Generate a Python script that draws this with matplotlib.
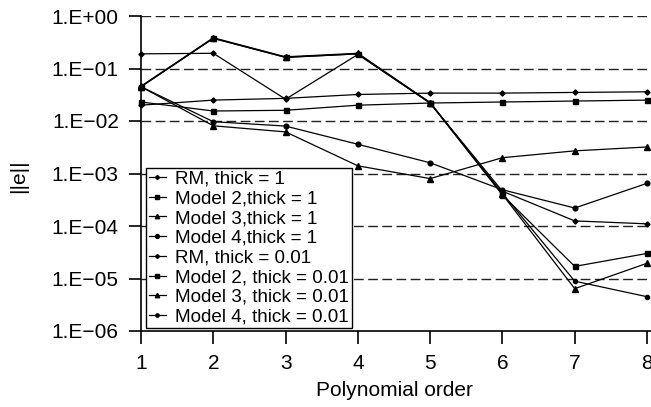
import matplotlib
matplotlib.use("Agg")
import matplotlib.pyplot as plt
from matplotlib.ticker import FixedLocator, FixedFormatter

plt.rcParams['font.family'] = ['Liberation Sans', 'DejaVu Sans']

orders = [1, 2, 3, 4, 5, 6, 7, 8]

# error norms, thickness = 1
rm_t1 = [0.020, 0.025, 0.027, 0.032, 0.034, 0.034, 0.035, 0.036]
m2_t1 = [0.023, 0.0155, 0.016, 0.020, 0.022, 0.023, 0.024, 0.025]
m3_t1 = [0.045, 0.0081, 0.0062, 0.0014, 0.00080, 0.0020, 0.0027, 0.0032]
m4_t1 = [0.045, 0.0097, 0.0080, 0.0036, 0.0016, 0.00049, 0.00022, 0.00065]

# error norms, thickness = 0.01
rm_t001 = [0.19, 0.195, 0.026, 0.185, 0.022, 0.00046, 0.000125, 0.00011]
m2_t001 = [0.045, 0.376, 0.163, 0.19, 0.022, 0.00039, 0.000017, 0.000030]
m3_t001 = [0.046, 0.385, 0.167, 0.195, 0.0225, 0.00040, 0.0000064, 0.0000195]
m4_t001 = [0.045, 0.376, 0.163, 0.19, 0.022, 0.00042, 0.0000089, 0.0000045]

labels = ["RM, thick = 1", "Model 2,thick = 1", "Model 3,thick = 1",
          "Model 4,thick = 1", "RM, thick = 0.01", "Model 2, thick = 0.01",
          "Model 3, thick = 0.01", "Model 4, thick = 0.01"]

ytick_vals = [1e0, 1e-1, 1e-2, 1e-3, 1e-4, 1e-5, 1e-6]
ytick_labels = ["1.E+00", "1.E\u221201", "1.E\u221202", "1.E\u221203",
                "1.E\u221204", "1.E\u221205", "1.E\u221206"]

fig = plt.figure(figsize=(6.51, 4.07), dpi=100)
ax = fig.add_axes([141/651, 1 - 331/407, (651 - 141)/651, (331 - 16)/407])

styles = [
    (rm_t1, 'D', 2.6), (m2_t1, 's', 3.6), (m3_t1, '^', 4.0), (m4_t1, 'o', 3.4),
    (rm_t001, 'D', 2.6), (m2_t001, 's', 3.6), (m3_t001, '^', 4.0), (m4_t001, 'o', 3.0),
]
for (vals, mk, ms), lab in zip(styles, labels):
    ax.plot(orders, vals, color='black', lw=0.9, marker=mk, markersize=ms,
            label=lab, clip_on=False, zorder=3)

ax.set_yscale('log')
ax.set_ylim(1e-6, 1e0)
ax.set_xlim(1, 8 + 4/72.3)

for v in ytick_vals[:-1]:
    ax.axhline(v, color='#222222', lw=1.0, dashes=(7, 3.2), zorder=1)

ax.yaxis.set_major_locator(FixedLocator(ytick_vals))
ax.yaxis.set_major_formatter(FixedFormatter(ytick_labels))
ax.yaxis.set_minor_locator(FixedLocator([]))
ax.set_xticks(orders)
ax.set_xticklabels([str(o) for o in orders])

for s in ['top', 'right']:
    ax.spines[s].set_visible(False)
for s in ['left', 'bottom']:
    ax.spines[s].set_linewidth(1.2)
    ax.spines[s].set_color('black')

ax.tick_params(axis='y', direction='out', length=9, width=1.2, pad=7, labelsize=15)
ax.tick_params(axis='x', direction='out', length=9.5, width=1.2, pad=7, labelsize=15)

leg = ax.legend(loc='lower left', bbox_to_anchor=(145.7/651, 1 - 328.3/407),
                bbox_transform=fig.transFigure, fontsize=13.6, frameon=True,
                fancybox=False, framealpha=1, edgecolor='black',
                labelspacing=0.13, handlelength=0.9, handletextpad=0.5,
                borderpad=0.15, borderaxespad=0, markerscale=0.8)
leg.get_frame().set_linewidth(1.0)
leg.set_zorder(5)

fig.text(19/651, 1 - 176/407, "||e||", rotation=90, ha='center', va='center', fontsize=15)
fig.text(394/651, 1 - 390/407, "Polynomial order", ha='center', va='center', fontsize=15)

fig.savefig("out.png", dpi=100)
